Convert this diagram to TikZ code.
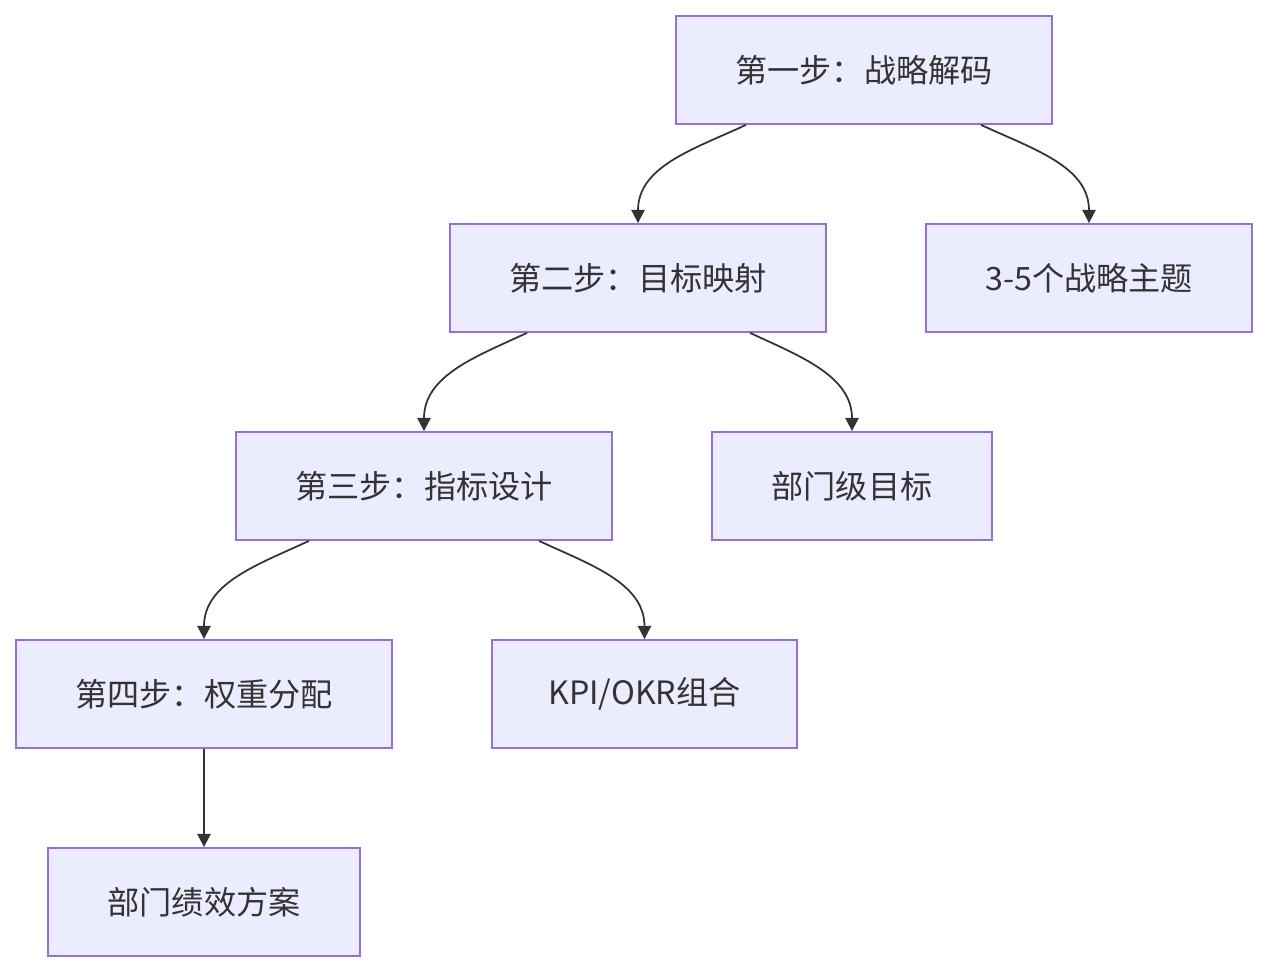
\documentclass[tikz,border=0pt]{standalone}
\usepackage{fontspec}
\newfontfamily\cjk{Noto Sans CJK SC}
\usetikzlibrary{arrows.meta,positioning,calc}
\definecolor{mfill}{HTML}{ECECFF}
\definecolor{mline}{HTML}{9370DB}
\definecolor{mtext}{HTML}{333333}
\tikzset{
  box/.style={draw=mline,fill=mfill,line width=1pt,align=center,text=mtext,font=\cjk\fontsize{18.3}{21}\selectfont,minimum height=2.16cm,inner sep=0pt},
  arr/.style={-{Triangle[length=7.5pt,width=7.5pt]},line width=1pt,draw=mtext},
}
\begin{document}
\begin{tikzpicture}[lcurve/.style={arr,out=-155,in=90},
                    rcurve/.style={arr,out=-25,in=90}]
  \useasboundingbox (0,0) rectangle (25.34,-19.44);
  \foreach \x/\y/\w/\n/\t in {17.28/-1.40/7.52/A/{第一步：战略解码},
                             12.76/-5.56/7.52/B/{第二步：目标映射},
                             21.78/-5.56/6.52/C/{3-5个战略主题},
                             8.48/-9.72/7.52/D/{第三步：指标设计},
                             17.04/-9.72/5.60/E/{部门级目标},
                             4.08/-13.88/7.52/F/{第四步：权重分配},
                             12.89/-13.88/6.10/G/{KPI/OKR组合},
                             4.08/-18.04/6.24/H/{部门绩效方案}} {
    \node[box,minimum width=\w cm] (\n) at (\x,\y) {\t};
  }
  % left branch
  \draw[lcurve] ([xshift=-2.36cm]A.south) to (B.north);
  \draw[lcurve] ([xshift=-2.22cm]B.south) to (D.north);
  \draw[lcurve] ([xshift=-2.30cm]D.south) to (F.north);
  % right branch
  \draw[rcurve] ([xshift=2.34cm]A.south) to (C.north);
  \draw[rcurve] ([xshift=2.24cm]B.south) to (E.north);
  \draw[rcurve] ([xshift=2.30cm]D.south) to (G.north);
  % last step
  \draw[arr] (F.south) -- (H.north);
\end{tikzpicture}
\end{document}
